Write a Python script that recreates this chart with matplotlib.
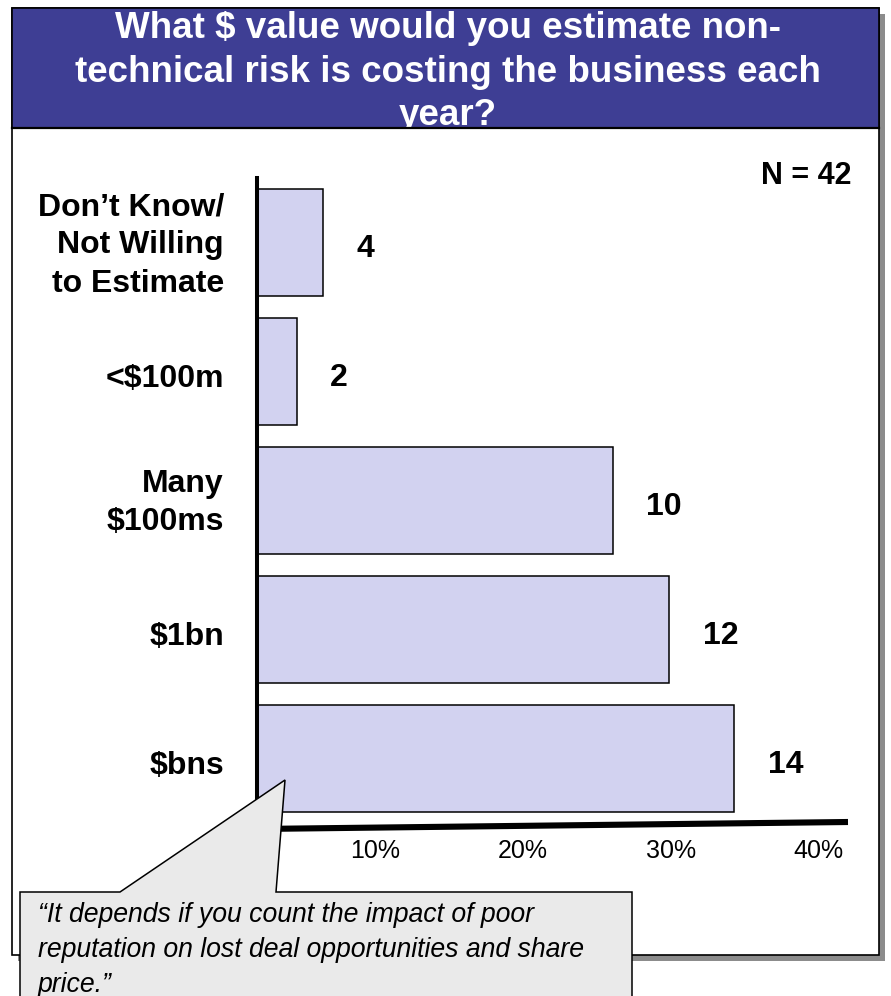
import matplotlib.pyplot as plt
from matplotlib.patches import Rectangle, Polygon

W, H = 891, 996

# data
categories = ["Don\u2019t Know/\nNot Willing\nto Estimate", "<$100m", "Many\n$100ms", "$1bn", "$bns"]
counts = [4, 2, 10, 12, 14]
pct = [6.5, 4.7, 26.1, 29.9, 34.3]  # bar lengths as drawn, in %
ticks = [10, 20, 30, 40]
tick_labels = ["10%", "20%", "30%", "40%"]
title = "What $ value would you estimate non-\ntechnical risk is costing the business each\nyear?"
quote = ("\u201cIt depends if you count the impact of poor\n"
         "reputation on lost deal opportunities and share\n"
         "price.\u201d")
n_label = "N = 42"

plt.rcParams['font.family'] = ['Liberation Sans', 'DejaVu Sans']

fig = plt.figure(figsize=(W / 100, H / 100), dpi=100)


def fxy(x, y):
    # pixel (from top-left) -> figure fraction
    return x / W, 1 - y / H


def rect(x0, y0, x1, y1, **kw):
    r = Rectangle((x0 / W, 1 - y1 / H), (x1 - x0) / W, (y1 - y0) / H,
                  transform=fig.transFigure, **kw)
    fig.add_artist(r)
    return r


# frame with shadow
rect(18, 14, 885, 961, facecolor='#8c8c8c', edgecolor='none', zorder=-3)
rect(12, 8, 879, 955, facecolor='white', edgecolor='black', linewidth=1.2, zorder=-2)
rect(12, 8, 879, 128, facecolor='#3e3e94', edgecolor='black', linewidth=1.2, zorder=-1)

fig.text(*fxy(448, 72), title, ha='center', va='center', color='white',
         fontsize=26.5, fontweight='bold', linespacing=1.3, zorder=3)
fig.add_artist(plt.Line2D([12 / W, 879 / W], [1 - 128 / H] * 2,
                          transform=fig.transFigure, color='black', linewidth=1.6, zorder=4))

fig.text(*fxy(806, 176), n_label, ha='center', va='center', fontsize=22, fontweight='bold')

# bar chart
ax = fig.add_axes([257 / W, 1 - 824 / H, (845 - 257) / W, (824 - 178) / H])
ax.patch.set_visible(False)
y = list(range(len(categories)))
ax.barh(y, pct, height=0.83, color='#d2d2f0', edgecolor='black', linewidth=1.1, zorder=2)
ax.set_xlim(2.0, 41.8)
ax.set_ylim(4.51, -0.5)

for i, (v, c) in enumerate(zip(pct, counts)):
    ax.annotate(str(c), (v, i), xytext=(24, -5), textcoords='offset points',
                ha='left', va='center', fontsize=23, fontweight='bold')

# category labels, right aligned left of the axis
for i, cat in enumerate(categories):
    nlines = cat.count('\n') + 1
    dy = -8 if nlines == 1 else -3
    ax.annotate(cat, (0, i), xycoords=('axes fraction', 'data'), xytext=(-33, dy),
                textcoords='offset pixels', ha='right', va='center', ma='right',
                fontsize=23, fontweight='bold', linespacing=1.36)

ax.set_xticks(ticks, tick_labels)
ax.set_yticks([])
ax.tick_params(axis='x', length=0, pad=11, labelsize=18)

for s in ['top', 'right', 'bottom']:
    ax.spines[s].set_visible(False)
ax.spines['left'].set_linewidth(2.9)
ax.spines['left'].set_bounds(4.51, -0.5)

# bottom axis line (slightly tilted, as in the original)
fig.add_artist(plt.Line2D([257 / W, 848 / W], [1 - 829 / H, 1 - 822 / H],
                          transform=fig.transFigure, color='black', linewidth=4.4,
                          solid_capstyle='butt', zorder=5))

# callout
pts = [(20, 892), (120, 892), (285, 780), (276, 892), (632, 892), (632, 1000), (20, 1000)]
fig.add_artist(Polygon([fxy(x, yy) for x, yy in pts], closed=True, transform=fig.transFigure,
                       facecolor='#eaeaea', edgecolor='black', linewidth=1.1, zorder=10))
fig.text(*fxy(38, 950), quote, ha='left', va='center', fontsize=19.2, style='italic',
         linespacing=1.43, zorder=11)

fig.savefig('out.png', dpi=100)
